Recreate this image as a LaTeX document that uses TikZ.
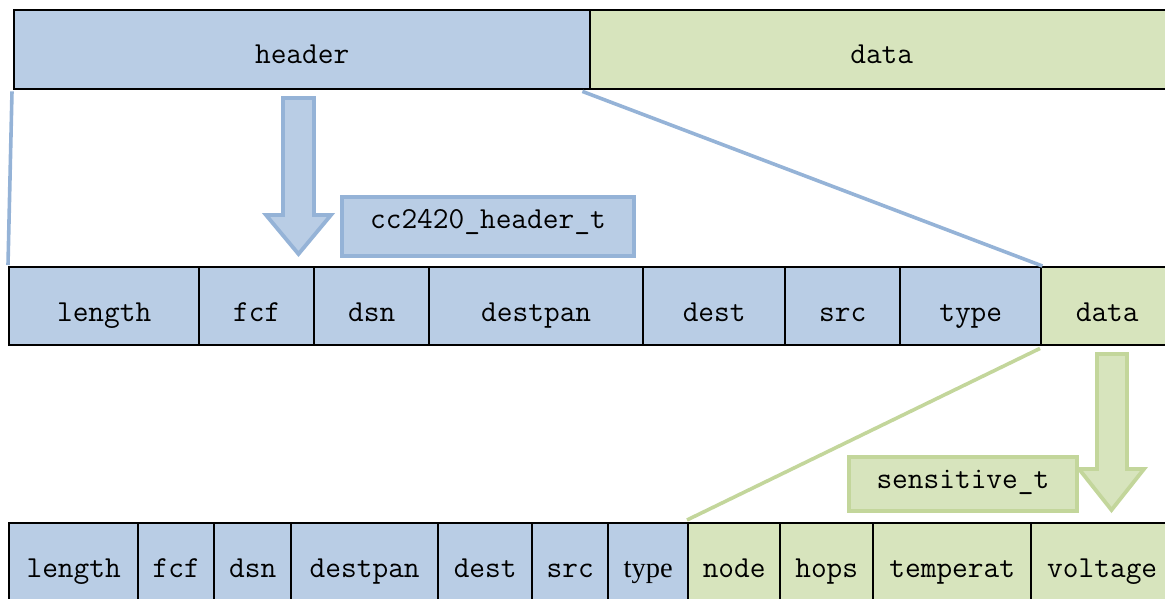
\documentclass[tikz,border=0pt]{standalone}
\usepackage{fontspec}
\newfontfamily\serifface{Liberation Serif}
\usetikzlibrary{calc}
\definecolor{hdrfill}{HTML}{B9CDE5}
\definecolor{hdrline}{HTML}{95B3D7}
\definecolor{datfill}{HTML}{D7E4BD}
\definecolor{datline}{HTML}{C3D69B}
\tikzset{
  cellbox/.style={draw=black, line width=2.4pt, anchor=north west, inner sep=0pt},
  hdr/.style={cellbox, fill=hdrfill},
  dat/.style={cellbox, fill=datfill},
  celltext/.style={font=\ttfamily\fontsize{30.5}{34}\selectfont, anchor=base, inner sep=0pt},
  tagbox/.style={line width=3.8pt, inner sep=0pt, anchor=north west},
  blockarrow/.style={line width=3.8pt, line join=miter},
  zoomline/.style={line width=3.6pt},
}
% one field of a packet: name, left x, right x, top y, bottom y, style, baseline y, text
\newcommand{\field}[8]{%
  \node[#6, minimum width={(#3-#2)*1pt}, minimum height={(#5-#4)*1pt}] (#1) at (#2,#4) {};
  \node[celltext] (#1-t) at ($(#1.north)+(0,#7-#4)$) {#8};
}
\begin{document}
\begin{tikzpicture}[x=1pt,y=-1pt]
\useasboundingbox (0,0) rectangle (1165,598);

% packet: header and payload
\field{hd}{13}{589}{9}{88}{hdr}{63}{header}
\field{pd}{589}{1172}{9}{88}{dat}{63}{data}

% cc2420 frame
\field{m1}{8}{198}{266}{344}{hdr}{321}{length}
\field{m2}{198}{313}{266}{344}{hdr}{321}{fcf}
\field{m3}{313}{428}{266}{344}{hdr}{321}{dsn}
\field{m4}{428}{642}{266}{344}{hdr}{321}{destpan}
\field{m5}{642}{784}{266}{344}{hdr}{321}{dest}
\field{m6}{784}{899}{266}{344}{hdr}{321}{src}
\field{m7}{899}{1040}{266}{344}{hdr}{321}{type}
\field{m8}{1040}{1172}{266}{344}{dat}{321}{data}

% frame with sensor payload
\field{b1}{8}{137}{522}{605}{hdr}{577}{length}
\field{b2}{137}{213}{522}{605}{hdr}{577}{fcf}
\field{b3}{213}{290}{522}{605}{hdr}{577}{dsn}
\field{b4}{290}{437}{522}{605}{hdr}{577}{destpan}
\field{b5}{437}{531}{522}{605}{hdr}{577}{dest}
\field{b6}{531}{607}{522}{605}{hdr}{577}{src}
\field{b7}{607}{687}{522}{605}{hdr}{577}{\serifface\fontsize{28.5}{32}\selectfont type}
\field{b8}{687}{779}{522}{605}{dat}{577}{node}
\field{b9}{779}{872}{522}{605}{dat}{577}{hops}
\field{b10}{872}{1030}{522}{605}{dat}{577}{temperat}
\field{b11}{1030}{1172}{522}{605}{dat}{577}{voltage}

% zoom lines
\draw[zoomline, hdrline] ([xshift=-1pt,yshift=-1pt]hd.south west) -- ([yshift=1pt]m1.north west);
\draw[zoomline, hdrline] ([xshift=-9pt,yshift=-1pt]hd.south east) -- (m7.north east);
\draw[zoomline, datline] ([yshift=-2pt]m8.south west) -- ([yshift=2pt]b8.north west);

% block arrows
\draw[blockarrow, draw=hdrline, fill=hdrfill]
  (283,98) -- (314,98) -- (314,215) -- (331,215) -- (298.5,254) -- (266,215) -- (283,215) -- cycle;
\draw[blockarrow, draw=datline, fill=datfill]
  (1097,354) -- (1127,354) -- (1127,469) -- (1144,469) -- (1111.5,510) -- (1079,469) -- (1097,469) -- cycle;

% type labels
\node[tagbox, draw=hdrline, fill=hdrfill, minimum width=292pt, minimum height=59pt] (ht) at (340,195) {};
\node[celltext] (ht-t) at ($(ht.north)+(0,33)$) {cc2420\_header\_t};
\node[tagbox, draw=datline, fill=datfill, minimum width=228pt, minimum height=54pt] (st) at (847,455) {};
\node[celltext] (st-t) at ($(st.north)+(0,33)$) {sensitive\_t};
\end{tikzpicture}
\end{document}
